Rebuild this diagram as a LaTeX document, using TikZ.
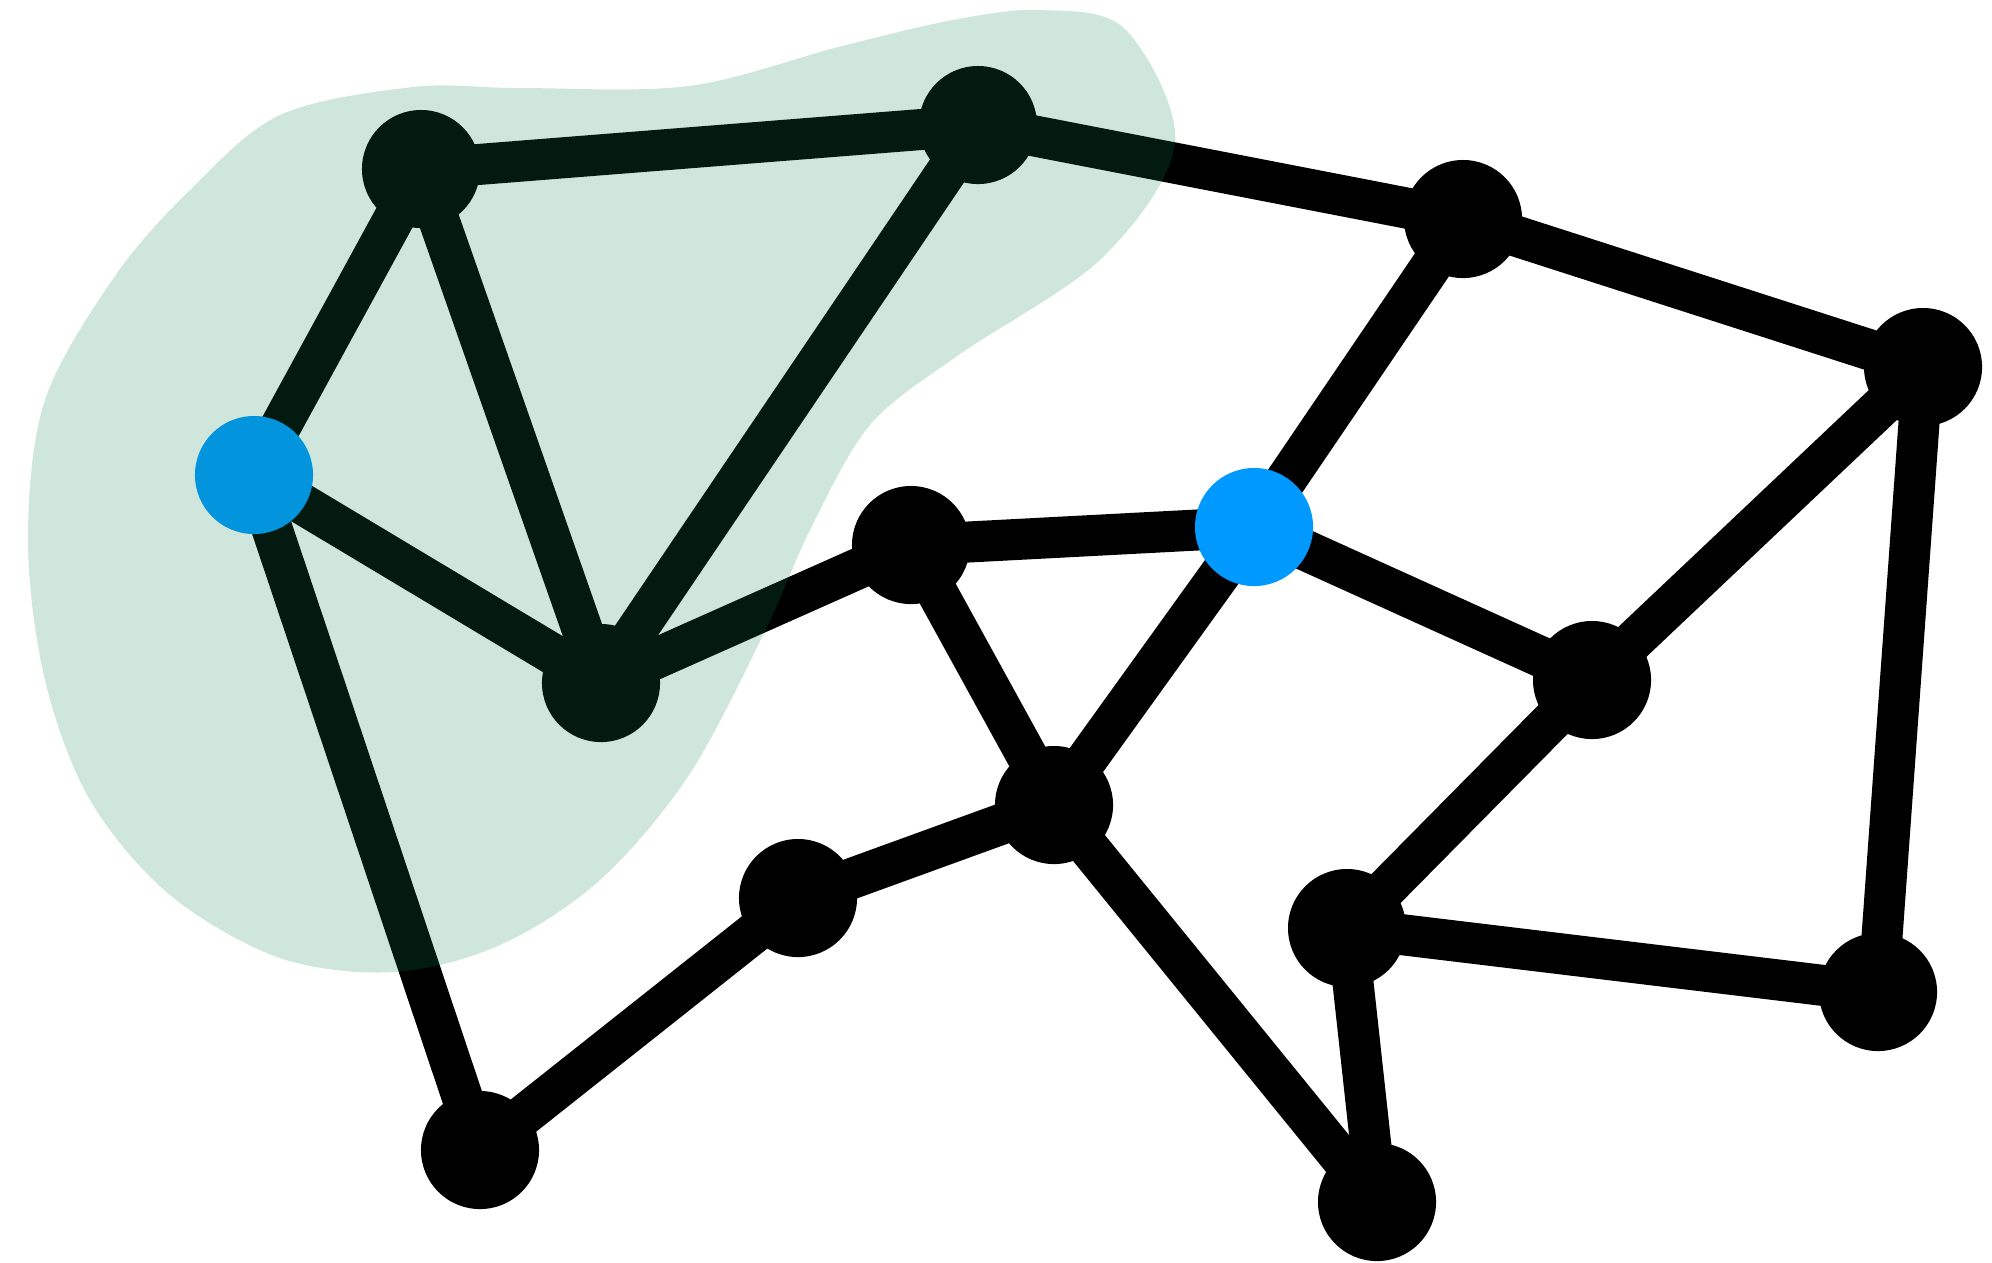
\documentclass[tikz,border=0pt]{standalone}
\usetikzlibrary{shapes,backgrounds}
\definecolor{blobgreen}{RGB}{10,130,80}
\definecolor{seedblue}{RGB}{0,153,255}
\tikzstyle{vertex} = [circle, fill=black, inner sep=0pt, minimum size=1.18cm]
\tikzstyle{seed}   = [circle, fill=seedblue, inner sep=0pt, minimum size=1.18cm]
\tikzstyle{link}   = [draw, line width=0.41cm, shorten <=-2pt, shorten >=-2pt]
\tikzstyle{blob}   = [fill=blobgreen, fill opacity=0.2]

\begin{document}
\begin{tikzpicture}[x=0.01cm, y=-0.01cm]
            \useasboundingbox (0,0) rectangle (1992,1262);
            \node[vertex] (topleft)  at (421,169)  {};
            \node[vertex] (topmid)   at (978,125)  {};
            \node[vertex] (topright) at (1463,219) {};
            \node[vertex] (farright) at (1923,367) {};
            \node[seed]   (leftseed) at (254,475)  {};
            \node[vertex] (centre)   at (911,545)  {};
            \node[seed]   (rightseed) at (1254,527) {};
            \node[vertex] (hub)      at (601,683)  {};
            \node[vertex] (midright) at (1592,680) {};
            \node[vertex] (cross)    at (1054,805) {};
            \node[vertex] (lowmid)   at (798,898)  {};
            \node[vertex] (lowright) at (1347,928) {};
            \node[vertex] (corner)   at (1878,992) {};
            \node[vertex] (bottomleft) at (480,1150) {};
            \node[vertex] (bottom)   at (1377,1202) {};

            \begin{scope}[on background layer]
            \path [link] (topleft) -- (topmid);
            \path [link] (topmid) -- (topright);
            \path [link] (topright) -- (farright);
            \path [link] (topleft) -- (leftseed);
            \path [link] (topleft) -- (hub);
            \path [link] (topmid) -- (hub);
            \path [link] (leftseed) -- (hub);
            \path [link] (leftseed) -- (bottomleft);
            \path [link] (hub) -- (centre);
            \path [link] (centre) -- (rightseed);
            \path [link] (centre) -- (cross);
            \path [link] (rightseed) -- (topright);
            \path [link] (rightseed) -- (cross);
            \path [link] (rightseed) -- (midright);
            \path [link] (midright) -- (farright);
            \path [link] (midright) -- (lowright);
            \path [link] (farright) -- (corner);
            \path [link] (lowright) -- (corner);
            \path [link] (lowright) -- (bottom);
            \path [link] (cross) -- (lowmid);
            \path [link] (cross) -- (bottom);
            \path [link] (lowmid) -- (bottomleft);
            \end{scope}

            % green blob laid over the upper left part
            \path [blob] plot[smooth cycle, tension=0.55] coordinates {
                (1040,10) (1125,29) (1175,143) (1102,258) (957,356) (870,425)
                (811,528) (765,631) (689,775) (600,880) (500,945) (394,972)
                (280,958) (170,895) (90,800) (45,680) (28,540) (45,400)
                (115,276) (190,190) (280,115) (413,87) (520,88) (689,86)
                (842,46) (953,20)};
        \end{tikzpicture}
\end{document}
